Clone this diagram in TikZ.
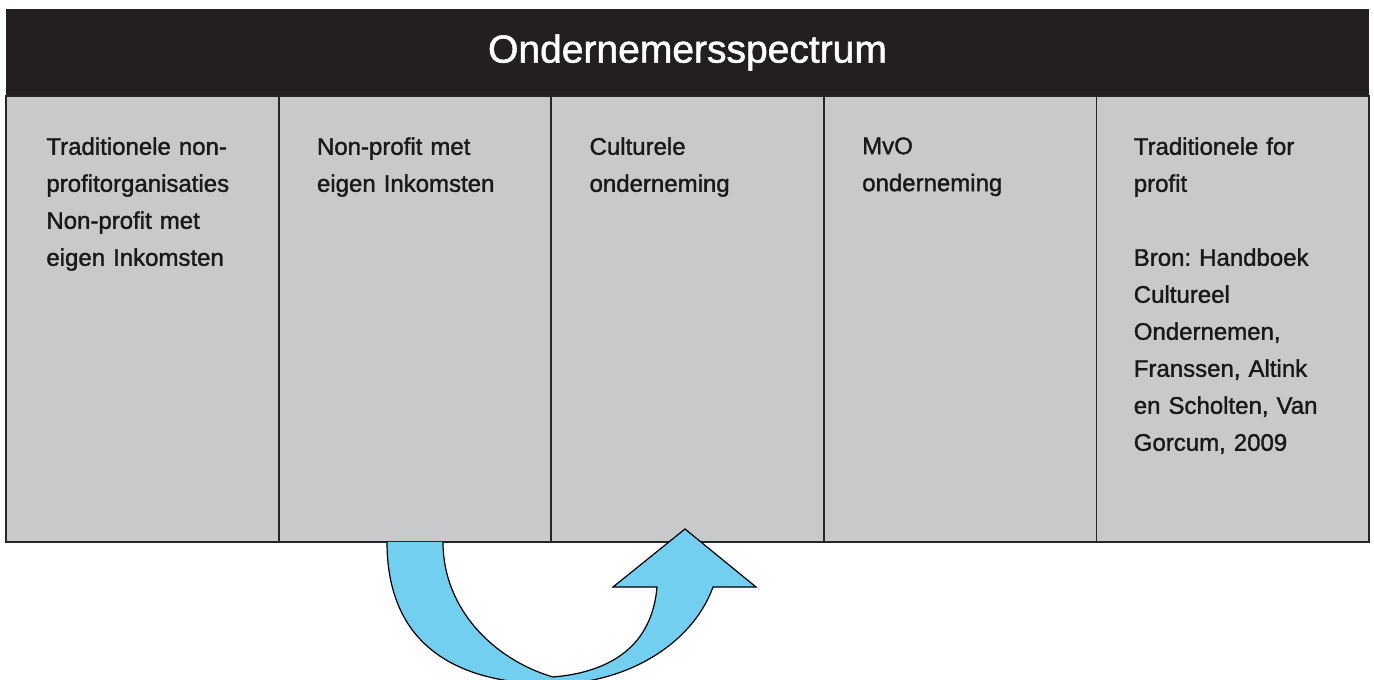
\documentclass[tikz,border=0pt]{standalone}
\usepackage{fontspec}
\setmainfont{Liberation Sans}
\newfontfamily\medfont[FakeBold=1.4]{Liberation Sans}
\usetikzlibrary{positioning}
\definecolor{headblack}{RGB}{35,31,32}
\definecolor{cellgray}{RGB}{200,201,203}
\definecolor{arrowblue}{RGB}{115,207,240}
\frenchspacing

\begin{document}
\begin{tikzpicture}[
        x=0.5pt, y=-0.5pt,
        head/.style={fill=headblack, text=white, inner sep=0pt, outer sep=0pt,
            minimum width=681.5pt, minimum height=43.5pt,
            font=\medfont\fontsize{19.5}{22}\selectfont},
        cell/.style={fill=cellgray, draw=black!85, line width=0.9pt, inner sep=0pt,
            outer sep=0pt, minimum width=136.3pt, minimum height=223pt},
        lbl/.style={anchor=north west, inner sep=0pt, text width=112pt, align=left,
            font=\medfont\fontsize{12}{18.5}\selectfont, text=black!90},
        turn/.style={fill=arrowblue, draw=black, line width=0.6pt, line join=miter}
        ]
    \useasboundingbox (0,0) rectangle (1374,679);
    \clip (0,0) rectangle (1374,679);
    \node [head, anchor=north west] (hdr) at (6,9) {Ondernemersspectrum};
    \node [cell, anchor=north west] (c1) at (hdr.south west) {};
    \node [cell, right=0pt of c1] (c2) {};
    \node [cell, right=0pt of c2] (c3) {};
    \node [cell, right=0pt of c3] (c4) {};
    \node [cell, right=0pt of c4] (c5) {};
    \node [lbl] (t1) at ([xshift=20pt,yshift=-20.5pt]c1.north west)
        {Traditionele non-\\profitorganisaties\\Non-profit met\\eigen Inkomsten};
    \node [lbl] (t2) at ([xshift=19pt,yshift=-20.5pt]c2.north west)
        {Non-profit met\\eigen Inkomsten};
    \node [lbl] (t3) at ([xshift=19pt,yshift=-20.5pt]c3.north west)
        {Culturele\\onderneming};
    \node [lbl] (t4) at ([xshift=19pt,yshift=-20.5pt]c4.north west)
        {MvO\\onderneming};
    \node [lbl] (t5) at ([xshift=18.5pt,yshift=-20.5pt]c5.north west)
        {Traditionele for\\profit\\[18.5pt]Bron: Handboek\\Cultureel\\Ondernemen,\\Franssen, Altink\\en Scholten, Van\\Gorcum, 2009};
    % U-turn arrow below the table
    \filldraw [turn] (387,542) .. controls (387,640) and (450,684) .. (553,684)
        .. controls (625,684) and (692,645) .. (713,587)
        -- (756,587) -- (685,529) -- (613,587) -- (657,587)
        .. controls (652,645) and (612,672) .. (553,677)
        .. controls (495,660) and (443,610) .. (443,542);
\end{tikzpicture}
\end{document}
